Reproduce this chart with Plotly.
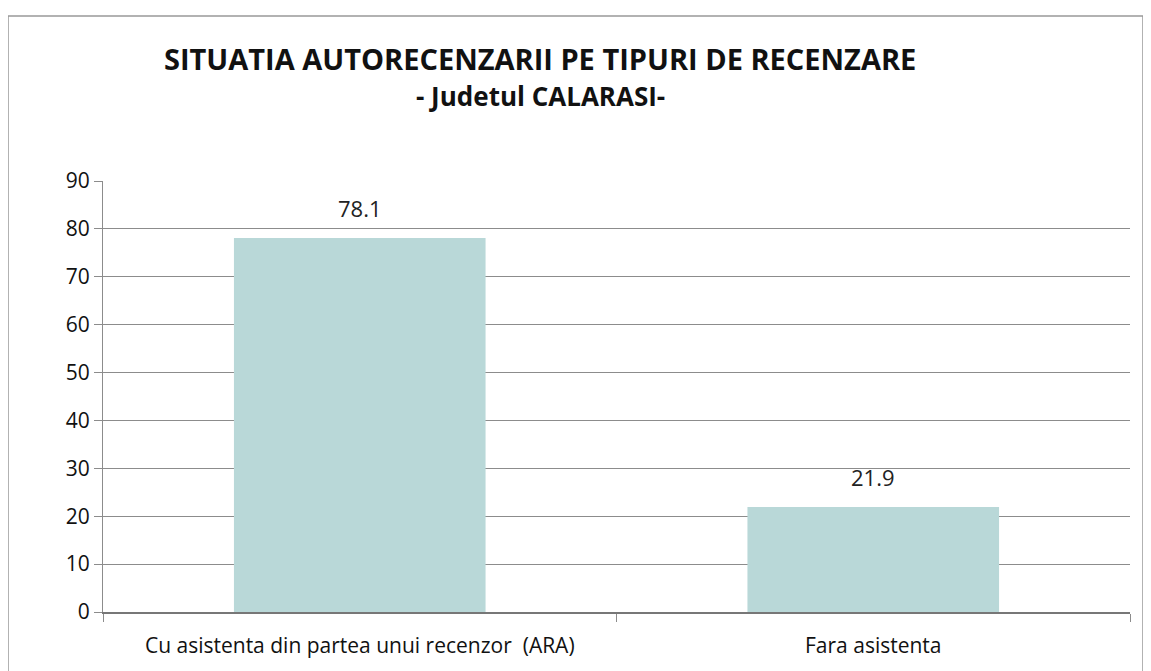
import plotly.graph_objects as go

categories = ["Cu asistenta din partea unui recenzor  (ARA)", "Fara asistenta"]
values = [78.1, 21.9]
y_ticks = [0, 10, 20, 30, 40, 50, 60, 70, 80, 90]

# page body has an 8px margin; compensate so the plot lands where the reference has it
OFF = 8
W, H = 1151 - OFF, 671 - OFF
L, R, T, B = 103 - OFF, 21, 181 - OFF, 54
pw, ph = W - L - R, H - T - B

def px(x):
    return (x - OFF - L) / pw

def py(y):
    return (H - B - (y - OFF)) / ph

fig = go.Figure(go.Bar(
    x=categories, y=values, width=0.49,
    marker=dict(color="#b9d8d8", line=dict(width=0)),
    hoverinfo="x+y",
))

for c, v in zip(categories, values):
    fig.add_annotation(x=c, y=v, text=f"{v:.1f}", showarrow=False,
                       yshift=30, font=dict(size=22, color="#222222"))

fig.update_layout(
    width=W, height=H,
    margin=dict(l=L, r=R, t=T, b=B),
    paper_bgcolor="white", plot_bgcolor="white",
    showlegend=False,
    font=dict(family="Open Sans", color="#111111"),
    shapes=[
        dict(type="rect", xref="paper", yref="paper",
             x0=px(8), x1=px(1143), y0=py(720), y1=py(14),
             line=dict(color="#999999", width=1.5), fillcolor="rgba(0,0,0,0)",
             layer="below"),
    ],
)
fig.add_annotation(text="<b>SITUATIA AUTORECENZARII PE TIPURI DE RECENZARE</b>",
                   x=px(540), y=py(57), xref="paper", yref="paper",
                   showarrow=False, font=dict(size=29, color="#111111"),
                   xanchor="center", yanchor="middle")
fig.add_annotation(text="<b>- Judetul CALARASI-</b>",
                   x=px(540), y=py(95), xref="paper", yref="paper",
                   showarrow=False, font=dict(size=26, color="#111111"),
                   xanchor="center", yanchor="middle")

fig.update_yaxes(
    range=[0, 90], tickvals=y_ticks, showgrid=True, gridcolor="#8c8c8c", gridwidth=1,
    showline=True, linecolor="#8c8c8c", linewidth=1,
    ticks="outside", ticklen=8, tickcolor="#8c8c8c",
    tickfont=dict(size=21, color="#111111"), zeroline=False,
)
fig.update_xaxes(
    showline=True, linecolor="#777777", linewidth=1.5,
    ticks="outside", ticklen=8, tickcolor="#8c8c8c", tickson="boundaries",
    tickfont=dict(size=21, color="#111111"), ticklabelstandoff=14,
)

fig.write_html("out.html")
